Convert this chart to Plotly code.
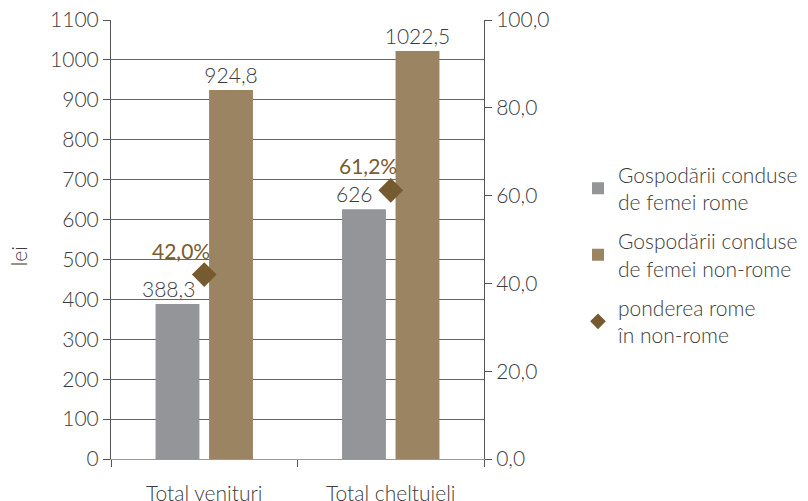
import plotly.graph_objects as go

categories = ["Total venituri", "Total cheltuieli"]
roma_women = [388.3, 626]
nonroma_women = [924.8, 1022.5]
share_pct = [42.0, 61.2]

series_names = ["Gospodării conduse<br>de femei rome",
                "Gospodării conduse<br>de femei non-rome",
                "ponderea rome<br>în non-rome"]

left_ticks = list(range(0, 1101, 100))
right_ticks = [0, 20, 40, 60, 80, 100]

FONT = "Lato"
GRAY = "#939598"
BROWN = "#9b8462"
DIAMOND = "#765a30"
PCT = "#7a5c30"
TXT = "#3c3c3c"
FS = 21

def fmt(v):
    return f"{v:g}".replace(".", ",")

tf = dict(family=FONT, size=FS, color=TXT, weight=300)

fig = go.Figure()
fig.add_trace(go.Bar(
    x=categories, y=roma_women, name=series_names[0],
    marker=dict(color=GRAY, line=dict(width=0)),
    legendgroup="a",
))
fig.add_trace(go.Bar(
    x=categories, y=nonroma_women, name=series_names[1],
    marker=dict(color=BROWN, line=dict(width=0)),
    text=[fmt(v) for v in nonroma_women], textposition="outside",
    constraintext="none", cliponaxis=False,
    textfont=tf,
    legendgroup="b",
))
fig.add_trace(go.Scatter(
    x=categories, y=share_pct, name=series_names[2], yaxis="y2",
    mode="markers",
    marker=dict(symbol="diamond", size=19, color=DIAMOND),
    cliponaxis=False, legendgroup="c",
))

# labels of the grey bars (set slightly left, as in the reference)
for c, v in zip(categories, roma_women):
    fig.add_annotation(
        x=c, y=v, text=fmt(v), showarrow=False,
        xanchor="center", yanchor="bottom", xshift=-36, yshift=1,
        font=tf,
    )

for c, v in zip(categories, share_pct):
    fig.add_annotation(
        x=c, y=v, yref="y2", text=f"{v:.1f}%".replace(".", ","),
        showarrow=False, xanchor="right", yanchor="bottom",
        xshift=8, yshift=10,
        font=dict(family=FONT, size=FS, color=PCT, weight=400),
    )

# y-axis title
fig.add_annotation(
    xref="paper", yref="paper", x=-0.249, y=0.462, text="lei",
    textangle=-90, showarrow=False, xanchor="center", yanchor="middle",
    font=tf,
)

fig.update_layout(
    width=800, height=493,
    margin=dict(l=103, r=324, t=12, b=42),
    paper_bgcolor="white", plot_bgcolor="white",
    font=tf,
    separators=",.",
    barmode="group", bargap=0.426, bargroupgap=0.18,
    showlegend=True,
    legend=dict(
        xref="container", x=0.7125, xanchor="left",
        yref="paper", y=0.465, yanchor="middle",
        font=dict(family=FONT, size=21, color=TXT, weight=300),
        tracegroupgap=9, bgcolor="rgba(0,0,0,0)", itemsizing="constant",
    ),
    xaxis=dict(
        showline=True, linecolor="#9a9a9a", linewidth=1,
        ticks="outside", tickson="boundaries", ticklen=7,
        tickcolor="#555", ticklabelstandoff=16,
        showgrid=False, automargin=False, tickfont=tf,
        ticklabeloverflow="allow",
    ),
    yaxis=dict(
        range=[0, 1100], tickvals=left_ticks,
        showline=True, linecolor="#555", linewidth=1,
        ticks="outside", ticklen=7, tickcolor="#555",
        showgrid=True, gridcolor="#666", gridwidth=1,
        zeroline=False, automargin=False,
        tickfont=tf, ticklabeloverflow="allow",
    ),
    yaxis2=dict(
        range=[0, 100], overlaying="y", side="right",
        tickvals=right_ticks, tickformat=".1f",
        showline=True, linecolor="#555", linewidth=1,
        ticks="outside", ticklen=7, tickcolor="#555",
        showgrid=False, zeroline=False, automargin=False,
        tickfont=tf, ticklabeloverflow="allow",
    ),
)

fig.write_html("out.html")
